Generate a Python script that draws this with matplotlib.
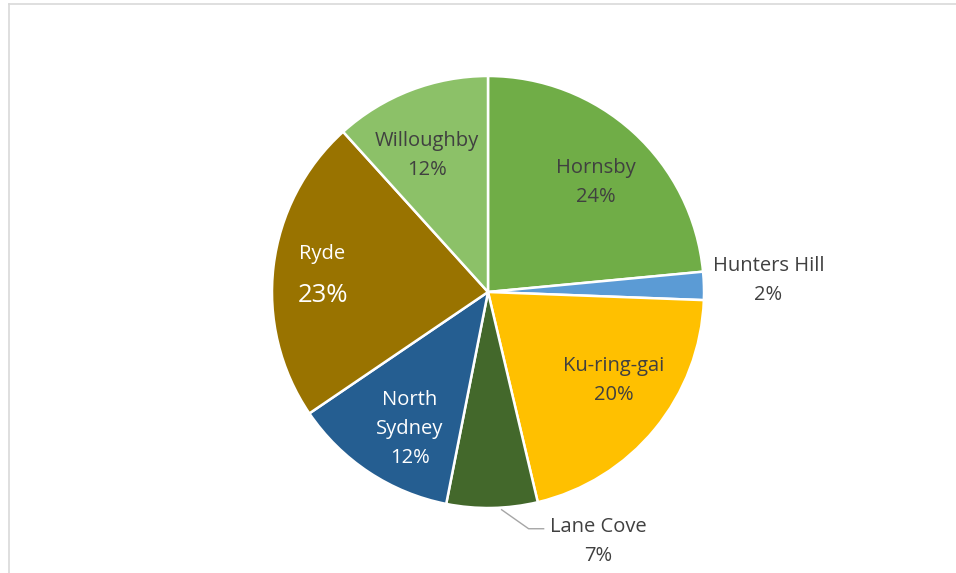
import numpy as np
import matplotlib
matplotlib.use("Agg")
import matplotlib.pyplot as plt
from matplotlib.lines import Line2D

# ---- data ----
councils = ["Hornsby", "Hunters Hill", "Ku-ring-gai", "Lane Cove", "North Sydney", "Ryde", "Willoughby"]
shares = [23.5, 2.1, 20.7, 6.8, 12.4, 22.8, 11.7]
pct_labels = ["24%", "2%", "20%", "7%", "12%", "23%", "12%"]
name_labels = ["Hornsby", "Hunters Hill", "Ku-ring-gai", "Lane Cove", "North\nSydney", "Ryde", "Willoughby"]

# ---- style ----
colors = ["#70AD47", "#5B9BD5", "#FFC000", "#43682B", "#255E91", "#997300", "#8CC168"]
text_colors = ["#404040", "#404040", "#404040", "#404040", "white", "white", "#404040"]
label_r = [0.71, 1.30, 0.71, None, 0.73, 0.77, 0.69]
angle_adj = [-2.4, 0.8, 4.4, 0, 3.7, 1.0, 3.0]

plt.rcParams['font.family'] = ['Open Sans', 'DejaVu Sans']

W, H = 956, 573
fig = plt.figure(figsize=(W / 100, H / 100), dpi=100)
cx, cy, R = 488, H - 292, 216
ax = fig.add_axes([(cx - R) / W, (cy - R) / H, 2 * R / W, 2 * R / H])

wedges, _ = ax.pie(shares, colors=colors, startangle=90, counterclock=False, radius=1,
                   wedgeprops=dict(edgecolor='white', linewidth=1.8))
ax.set_xlim(-1, 1)
ax.set_ylim(-1, 1)
ax.set_aspect('equal')
ax.axis('off')

fs = 14.5
ls = 29 / R  # line step in data units
for i, w in enumerate(wedges):
    mid = (w.theta1 + w.theta2) / 2
    if councils[i] == "Lane Cove":
        a = np.deg2rad(mid + 2.5)
        x0, y0 = 1.01 * np.cos(a), 1.01 * np.sin(a)
        x1, y1 = x0 + 27 / R, y0 - 19 / R
        x2 = x1 + 15 / R
        ax.plot([x0, x1, x2], [y0, y1, y1], color='#A6A6A6', lw=1.0, clip_on=False)
        tx = x2 + 55 / R
        ax.text(tx, y1 + 2 / R, name_labels[i], ha='center', va='center', fontsize=fs,
                color=text_colors[i])
        ax.text(tx, y1 + 2 / R - ls, pct_labels[i], ha='center', va='center', fontsize=fs,
                color=text_colors[i])
        continue
    a = np.deg2rad(mid + angle_adj[i])
    x, y = label_r[i] * np.cos(a), label_r[i] * np.sin(a)
    if councils[i] == "Ryde":
        ax.text(x, y + 21 / R, name_labels[i], ha='center', va='center', fontsize=fs,
                color=text_colors[i])
        ax.text(x, y - 20 / R, pct_labels[i], ha='center', va='center', fontsize=18.5,
                color=text_colors[i])
    else:
        lines = (name_labels[i] + "\n" + pct_labels[i]).split("\n")
        n = len(lines)
        for k, t in enumerate(lines):
            ax.text(x, y + ((n - 1) / 2 - k) * ls, t, ha='center', va='center',
                    fontsize=fs, color=text_colors[i])

# chart frame (partially visible)
fig.add_artist(Line2D([8.5 / W, 8.5 / W], [0, 1 - 3.5 / H], transform=fig.transFigure,
                      color='#D9D9D9', lw=1.2))
fig.add_artist(Line2D([8.5 / W, 1], [1 - 3.5 / H, 1 - 3.5 / H], transform=fig.transFigure,
                      color='#D9D9D9', lw=1.2))

fig.savefig("out.png", dpi=100, facecolor='white')
